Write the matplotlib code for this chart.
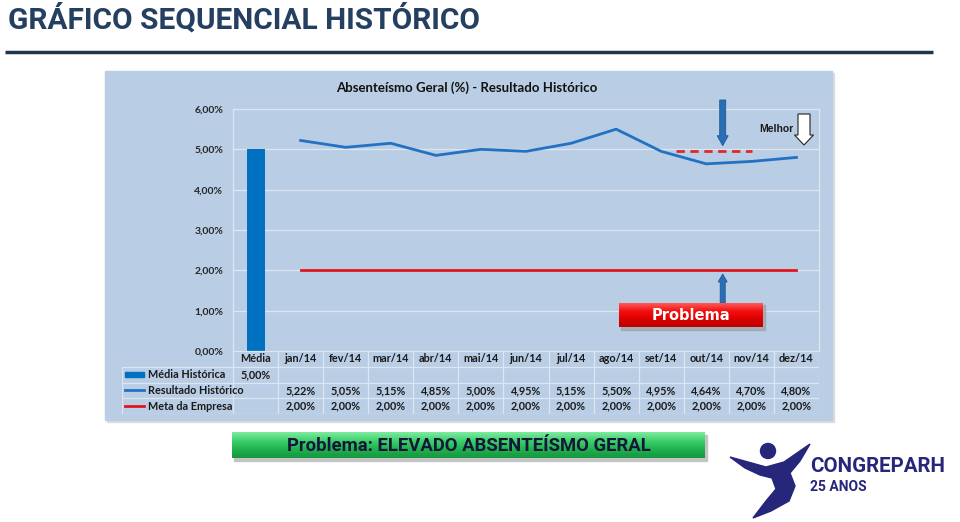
import matplotlib
matplotlib.use('Agg')
import matplotlib.pyplot as plt
import matplotlib.patches as mpatches
import numpy as np
from matplotlib.colors import LinearSegmentedColormap

# dados do grafico
categorias = ['Média', 'jan/14', 'fev/14', 'mar/14', 'abr/14', 'mai/14', 'jun/14',
              'jul/14', 'ago/14', 'set/14', 'out/14', 'nov/14', 'dez/14']
media_historica = [5.00]
resultado_historico = [5.22, 5.05, 5.15, 4.85, 5.00, 4.95, 5.15, 5.50, 4.95, 4.64, 4.70, 4.80]
meta_empresa = [2.00, 2.00, 2.00, 2.00, 2.00, 2.00, 2.00, 2.00, 2.00, 2.00, 2.00, 2.00]
eixo_y = [0, 1, 2, 3, 4, 5, 6]
series = ['Média Histórica', 'Resultado Histórico', 'Meta da Empresa']

W, H = 960, 522
FONT = ['Lato', 'DejaVu Sans']
TITLE_FONT = ['Roboto', 'DejaVu Sans']
AZUL_BARRA = '#0070C0'
AZUL_LINHA = '#2272C3'
VERMELHO = '#E3151D'
GRADE = '#DCE6F2'
FUNDO = '#B9CDE5'
NAVY = '#243F60'


def pct(v):
    return ('%.2f%%' % v).replace('.', ',')


def gradient_box(ax, x0, y0, x1, y1, cores):
    cmap = LinearSegmentedColormap.from_list('g', cores)
    grad = np.linspace(0, 1, 64).reshape(-1, 1)
    ax.imshow(grad, cmap=cmap, extent=(x0, x1, y1, y0), aspect='auto',
              interpolation='bicubic', zorder=3)


fig = plt.figure(figsize=(W / 100, H / 100), dpi=100)

# fundo em pixels
bg = fig.add_axes([0, 0, 1, 1], zorder=0)
bg.set_xlim(0, W)
bg.set_ylim(H, 0)
bg.axis('off')

bg.text(8, 19, 'GRÁFICO SEQUENCIAL HISTÓRICO', fontsize=21.5, fontweight='bold',
        color=NAVY, va='center', ha='left', family=TITLE_FONT)
bg.plot([5, 933], [52, 52], color='#1F3550', lw=2.5, solid_capstyle='butt')

# painel do grafico
bg.add_patch(mpatches.Rectangle((107, 73), 727, 349, color='#DADDE2', zorder=1))
bg.add_patch(mpatches.Rectangle((105, 71), 727, 349, color=FUNDO, zorder=2))
bg.text(467, 88, 'Absenteísmo Geral (%) - Resultado Histórico', fontsize=9.5,
        fontweight='bold', color='#111111', ha='center', va='center', family=FONT, zorder=3)

# caixa verde
bg.add_patch(mpatches.Rectangle((234, 435), 473, 26, color='#C4C4C4', zorder=2))
gradient_box(bg, 232, 432, 705, 458, ['#7FEBA0', '#3DD06C', '#20B24E', '#16963F'])
bg.text(469, 446, 'Problema: ELEVADO ABSENTEÍSMO GERAL', fontsize=13.3, fontweight='bold',
        color='#15173A', ha='center', va='center', family=TITLE_FONT, zorder=4)

# logo
LOGO = '#26267A'
bg.add_patch(mpatches.Circle((768, 451), 7.5, color=LOGO, zorder=3))
corpo = [(730, 457), (766, 467), (784, 462), (810, 444), (800, 461), (790, 473),
         (795, 486), (789, 501), (771, 511), (753, 518), (766, 501), (776, 489),
         (772, 478), (760, 475), (745, 468)]
bg.add_patch(mpatches.Polygon(corpo, closed=True, color=LOGO, zorder=3))
bg.text(810, 466, 'CONGREPARH', fontsize=14.8, color=LOGO, ha='left', va='center',
        family=TITLE_FONT, fontweight='bold', zorder=3)
bg.text(810, 487, '25 ANOS', fontsize=10, color=LOGO, ha='left', va='center',
        family=TITLE_FONT, fontweight='bold', zorder=3)

bg.set_xlim(0, W)
bg.set_ylim(H, 0)

# area de plotagem
px_left, px_right, px_top, px_bot = 233, 819, 109, 351
ax = fig.add_axes([px_left / W, 1 - px_bot / H, (px_right - px_left) / W,
                   (px_bot - px_top) / H], zorder=1)
ax.set_facecolor('none')
ax.set_xlim(-0.5, len(categorias) - 0.5)
ax.set_ylim(eixo_y[0], eixo_y[-1])
for v in eixo_y[1:-1]:
    ax.axhline(v, color=GRADE, lw=0.9, zorder=0)
for s in ax.spines.values():
    s.set_color(GRADE)
    s.set_linewidth(0.9)
ax.set_xticks([])
ax.set_yticks(eixo_y)
ax.set_yticklabels([pct(v) for v in eixo_y], fontsize=7.5, fontweight='bold',
                   family=FONT, color='#262626')
ax.tick_params(axis='y', length=0, pad=7)

x_meses = np.arange(1, len(categorias))
ax.bar([0], media_historica, width=0.4, color=AZUL_BARRA, zorder=2)
ax.plot(x_meses, resultado_historico, color=AZUL_LINHA, lw=2, zorder=3)
ax.plot(x_meses, meta_empresa, color=VERMELHO, lw=2, zorder=3)

# tabela de dados abaixo do grafico
col = (px_right - px_left) / len(categorias)
lab_left = 122
x_lab = (lab_left - px_left) / col - 0.5
tb = fig.add_axes([lab_left / W, 1 - 414 / H, (px_right - lab_left) / W, 63 / H], zorder=1)
tb.set_xlim(x_lab, len(categorias) - 0.5)
tb.set_ylim(4, 0)
tb.axis('off')
for r in range(1, 5):
    tb.plot([x_lab, len(categorias) - 0.5], [r, r], color=GRADE, lw=0.9)
for k in range(len(categorias) + 1):
    tb.plot([k - 0.5, k - 0.5], [0, 4], color=GRADE, lw=0.9)
tb.plot([x_lab, x_lab], [1, 4], color=GRADE, lw=0.9)

txt = dict(fontsize=7.8, fontweight='bold', family=FONT, color='#1A1A1A',
           ha='center', va='center')
for i, c in enumerate(categorias):
    tb.text(i, 0.5, c, **txt)
for j, v in enumerate(media_historica):
    tb.text(j, 1.5, pct(v), **txt)
for j, v in enumerate(resultado_historico):
    tb.text(j + 1, 2.5, pct(v), **txt)
for j, v in enumerate(meta_empresa):
    tb.text(j + 1, 3.5, pct(v), **txt)

k0 = (125 - px_left) / col - 0.5
k1 = (144 - px_left) / col - 0.5
xt = (148 - px_left) / col - 0.5
tb.add_patch(mpatches.Rectangle((k0, 1.35), k1 - k0, 0.3, color=AZUL_BARRA))
tb.plot([k0, k1], [2.5, 2.5], color=AZUL_LINHA, lw=2)
tb.plot([k0, k1], [3.5, 3.5], color=VERMELHO, lw=2)
for r, nome in enumerate(series):
    tb.text(xt, r + 1.5, nome, fontsize=7.8, fontweight='bold', family=FONT,
            color='#1A1A1A', ha='left', va='center')

# anotacoes por cima
fg = fig.add_axes([0, 0, 1, 1], zorder=2)
fg.set_facecolor('none')
fg.axis('off')
fg.plot([676, 752], [151, 151], color='#E02828', lw=2, ls=(0, (3, 2)))
fg.add_patch(mpatches.FancyArrow(722.7, 100, 0, 45.7, width=6, head_width=11,
                                 head_length=10, length_includes_head=True,
                                 fc='#2A6FB5', ec='#1D5A99', lw=0.6, zorder=3))
fg.add_patch(mpatches.FancyArrow(722.7, 303, 0, -29, width=5, head_width=9,
                                 head_length=8, length_includes_head=True,
                                 fc='#2A6FB5', ec='#1D5A99', lw=0.6, zorder=3))
fg.add_patch(mpatches.Rectangle((621, 305), 144, 25, color='#9A9A9A', alpha=0.6, zorder=2))
gradient_box(fg, 619, 303, 763, 327, ['#FF5A5A', '#F21010', '#DD0000', '#B80000'])
fg.text(691, 315.5, 'Problema', fontsize=10.5, fontweight='bold', color='white',
        ha='center', va='center', family='DejaVu Sans', zorder=4)
fg.text(793, 129, 'Melhor', fontsize=7.5, fontweight='bold', color='#1A1A1A',
        ha='right', va='center', family=['Liberation Sans', 'DejaVu Sans'])
fg.add_patch(mpatches.FancyArrow(804, 114, 0, 31, width=12, head_width=19,
                                 head_length=10, length_includes_head=True,
                                 fc='white', ec='#222222', lw=0.8, zorder=3))
fg.set_xlim(0, W)
fg.set_ylim(H, 0)

fig.savefig('out.png', dpi=100)
